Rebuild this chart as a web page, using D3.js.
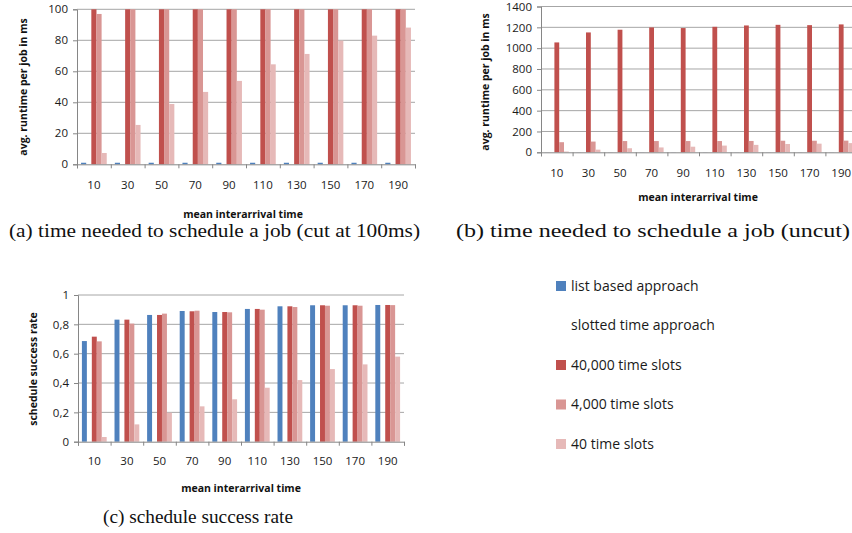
<!DOCTYPE html>
<html>
<head>
<meta charset="utf-8">
<script src="https://cdn.jsdelivr.net/npm/d3@7"></script>
<style>
  body { margin: 0; background: #fff; }
  svg { display: block; }
  .tick text { font-family: "Open Sans", sans-serif; font-size: 11.5px; fill: #1a1a1a; }
  .axis-title { font-family: "Open Sans", sans-serif; font-size: 10.5px; font-weight: bold; fill: #111; }
  .caption { font-family: "Liberation Serif", "Times New Roman", serif; font-size: 19px; fill: #111; }
  .legend text { font-family: "Open Sans", sans-serif; font-size: 14px; fill: #1a1a1a; }
</style>
</head>
<body>
<svg id="chart" width="852" height="533"></svg>
<script>
const categories = [10, 30, 50, 70, 90, 110, 130, 150, 170, 190];
const seriesNames = ['list based approach', 'slotted time approach', '40,000 time slots', '4,000 time slots', '40 time slots'];
const seriesColors = ['#4f81bd', 'none', '#c0504d', '#d99694', '#e6b9b8'];

// avg. runtime per job in ms
const runtimeList = [1, 1, 1, 1, 1, 1, 1, 1, 1, 1];
const runtime40000 = [1055, 1151, 1177, 1199, 1193, 1205, 1218, 1224, 1221, 1228];
const runtime4000 = [97, 103, 108, 108, 108, 108, 109, 111, 111, 112];
const runtime40 = [7.3, 25.4, 38.9, 46.7, 53.8, 64.5, 71.2, 79.8, 83, 88.2];

// schedule success rate
const successList = [0.686, 0.832, 0.864, 0.891, 0.884, 0.905, 0.923, 0.93, 0.93, 0.932];
const success40000 = [0.716, 0.832, 0.864, 0.889, 0.884, 0.905, 0.923, 0.93, 0.93, 0.932];
const success4000 = [0.684, 0.805, 0.873, 0.893, 0.882, 0.9, 0.918, 0.927, 0.927, 0.931];
const success40 = [0.032, 0.118, 0.198, 0.241, 0.289, 0.368, 0.42, 0.495, 0.527, 0.58];

const runtimeTicksA = [0, 20, 40, 60, 80, 100];
const runtimeTicksB = [0, 200, 400, 600, 800, 1000, 1200, 1400];
const successTicks = [0, 0.2, 0.4, 0.6, 0.8, 1];

const svg = d3.select('#chart');

function drawPanel(p) {
  const g = svg.append('g');

  const x0 = d3.scaleBand()
    .domain(categories)
    .range([p.left, p.right])
    .paddingInner(0.24)
    .paddingOuter(0.12);

  const x1 = d3.scaleBand()
    .domain(seriesNames)
    .range([0, x0.bandwidth()]);

  const y = d3.scaleLinear()
    .domain([0, d3.max(p.ticks)])
    .range([p.bottom, p.top])
    .clamp(true);

  // gridlines
  g.append('g')
    .selectAll('line')
    .data(p.ticks.filter((t) => t > 0))
    .enter()
    .append('line')
    .attr('x1', p.left)
    .attr('x2', p.right)
    .attr('y1', (d) => y(d))
    .attr('y2', (d) => y(d))
    .attr('stroke', '#a6a6a6')
    .attr('stroke-width', 1);

  // bars
  const rows = categories.map((c, i) => ({
    cat: c,
    values: p.series.map((s, j) => ({ name: seriesNames[j], value: s ? s[i] : null, color: seriesColors[j] }))
  }));

  g.append('g')
    .selectAll('g')
    .data(rows)
    .enter()
    .append('g')
    .attr('transform', (d) => `translate(${x0(d.cat)},0)`)
    .selectAll('rect')
    .data((d) => d.values.filter((v) => v.value != null))
    .enter()
    .append('rect')
    .attr('x', (d) => x1(d.name))
    .attr('width', x1.bandwidth())
    .attr('y', (d) => y(d.value))
    .attr('height', (d) => y(0) - y(d.value))
    .attr('fill', (d) => d.color);

  // y axis
  const yAxis = g.append('g')
    .attr('transform', `translate(${p.left},0)`)
    .call(d3.axisLeft(y).tickValues(p.ticks).tickSize(4).tickPadding(5).tickFormat(p.format));
  yAxis.select('.domain').attr('stroke', '#868686');
  yAxis.selectAll('.tick line').attr('stroke', '#868686');

  // x axis: tick marks on category boundaries, labels centred in bands
  const xb = d3.scaleLinear().domain([0, categories.length]).range([p.left, p.right]);
  const xAxis = g.append('g')
    .attr('transform', `translate(0,${p.bottom})`)
    .call(d3.axisBottom(xb).ticks(categories.length).tickSize(4).tickFormat(''));
  xAxis.select('.domain').attr('stroke', '#868686');
  xAxis.selectAll('.tick line').attr('stroke', '#868686');

  const xLabels = g.append('g')
    .attr('transform', `translate(0,${p.bottom})`)
    .call(d3.axisBottom(x0).tickSize(0).tickPadding(p.labelPad));
  xLabels.select('.domain').remove();

  g.append('text')
    .attr('class', 'axis-title')
    .attr('text-anchor', 'middle')
    .attr('transform', `translate(${p.yTitleX},${p.yTitleY}) rotate(-90)`)
    .attr('dy', '0.35em')
    .text(p.yTitle);

  g.append('text')
    .attr('class', 'axis-title')
    .attr('text-anchor', 'middle')
    .attr('x', p.xTitleX)
    .attr('y', p.xTitleY)
    .text('mean interarrival time');

  // caption is set wider than the font's natural width, as in the paper figure
  g.append('text')
    .attr('class', 'caption')
    .attr('x', p.capX)
    .attr('y', p.capY)
    .attr('textLength', p.capW)
    .attr('lengthAdjust', 'spacingAndGlyphs')
    .text(p.caption);
}

const commaFormat = (d) => String(d).replace('.', ',');

drawPanel({
  left: 77, right: 415, top: 9.3, bottom: 164.3,
  ticks: runtimeTicksA, format: d3.format('d'),
  series: [runtimeList, null, runtime40000, runtime4000, runtime40],
  labelPad: 17,
  yTitle: 'avg. runtime per job in ms', yTitleX: 23, yTitleY: 87,
  xTitleX: 243, xTitleY: 218,
  caption: '(a) time needed to schedule a job (cut at 100ms)', capX: 9, capY: 237, capW: 411
});

drawPanel({
  left: 541, right: 857, top: 6.5, bottom: 152.3,
  ticks: runtimeTicksB, format: d3.format('d'),
  series: [runtimeList, null, runtime40000, runtime4000, runtime40],
  labelPad: 17,
  yTitle: 'avg. runtime per job in ms', yTitleX: 485, yTitleY: 82,
  xTitleX: 698, xTitleY: 201,
  caption: '(b) time needed to schedule a job (uncut)', capX: 456, capY: 237, capW: 394
});

drawPanel({
  left: 78, right: 404, top: 295, bottom: 441.7,
  ticks: successTicks, format: commaFormat,
  series: [successList, null, success40000, success4000, success40],
  labelPad: 15,
  yTitle: 'schedule success rate', yTitleX: 33, yTitleY: 369,
  xTitleX: 241, xTitleY: 492,
  caption: '(c) schedule success rate', capX: 103, capY: 523, capW: 190
});

// legend
const legend = svg.append('g').attr('class', 'legend');
const legendY = d3.scalePoint().domain(seriesNames).range([286, 444]);
const items = legend.selectAll('g')
  .data(seriesNames.map((n, i) => ({ name: n, color: seriesColors[i] })))
  .enter()
  .append('g')
  .attr('transform', (d) => `translate(556,${legendY(d.name)})`);
items.filter((d) => d.color !== 'none')
  .append('rect')
  .attr('x', 0)
  .attr('y', -5)
  .attr('width', 10)
  .attr('height', 10)
  .attr('fill', (d) => d.color);
items.append('text')
  .attr('x', 15)
  .attr('dy', '0.35em')
  .text((d) => d.name);
</script>
</body>
</html>
